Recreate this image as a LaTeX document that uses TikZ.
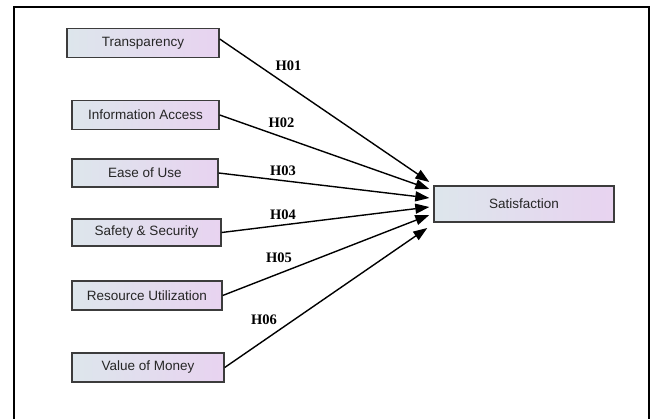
\documentclass[tikz,border=0pt]{standalone}
\usepackage{fontspec}
\setmainfont{Liberation Sans}
\newfontfamily\hfont{Liberation Serif}
\usepackage{tikz}
\usetikzlibrary{arrows.meta,calc}
\definecolor{boxleft}{HTML}{DDE6EC}
\definecolor{boxright}{HTML}{E8D3F0}
\definecolor{boxedge}{HTML}{3C3C3C}
\tikzset{
  factor/.style={draw=boxedge, line width=1.4pt, left color=boxleft, right color=boxright,
    inner sep=0pt, font=\fontsize{13.5}{15}\selectfont, text=black!85},
  hyp/.style={line width=1.4pt, -{Triangle[length=14pt,width=10pt]}},
  hlabel/.style={font=\hfont\bfseries\fontsize{14.5}{16}\selectfont}
}

\begin{document}
\begin{tikzpicture}[x=1pt,y=-1pt]
		%%%%% START %%%%%
		\useasboundingbox (0,0) rectangle (654,419);
		\draw[line width=2pt] (14,419) -- (14,7) -- (649,7) -- (649,419);
		
		% factors
		\node[factor, minimum width=152, minimum height=29] (tr) at (143,43) {Transparency};
		\node[factor, minimum width=147, minimum height=29] (ia) at (145.5,115) {Information Access};
		\node[factor, minimum width=146, minimum height=28] (eu) at (145,173) {Ease of Use};
		\node[factor, minimum width=149, minimum height=27] (ss) at (146.5,232.5) {Safety \& Security};
		\node[factor, minimum width=150, minimum height=29] (ru) at (147,295.5) {Resource Utilization};
		\node[factor, minimum width=152, minimum height=29] (vm) at (148,367.5) {Value of Money};
		
		\node[factor, minimum width=180, minimum height=36] (sat) at (524,204) {Satisfaction};
		
		% arrow ends
		\coordinate (e1) at ($(sat.west)+(-4,-22)$);
		\coordinate (e2) at ($(sat.west)+(-4,-15)$);
		\coordinate (e3) at ($(sat.west)+(-4,-6)$);
		\coordinate (e4) at ($(sat.west)+(-4,3)$);
		\coordinate (e5) at ($(sat.west)+(-4,11)$);
		\coordinate (e6) at ($(sat.west)+(-6,24)$);
		
		\draw[hyp] ($(tr.east)+(0,-4)$) -- (e1);
		\draw[hyp] (ia.east) -- (e2);
		\draw[hyp] (eu.east) -- (e3);
		\draw[hyp] (ss.east) -- (e4);
		\draw[hyp] (ru.east) -- (e5);
		\draw[hyp] (vm.east) -- (e6);
		
		\node[hlabel] (h1) at (288.5,66) {H01};
		\node[hlabel] (h2) at (281.5,123) {H02};
		\node[hlabel] (h3) at (283,171) {H03};
		\node[hlabel] (h4) at (283,215) {H04};
		\node[hlabel] (h5) at (279,258) {H05};
		\node[hlabel] (h6) at (264,320) {H06};
		%%%%% END %%%%%
	\end{tikzpicture}
\end{document}
